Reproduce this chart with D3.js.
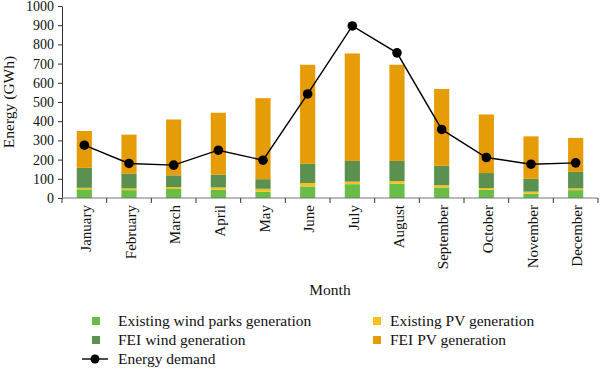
<!DOCTYPE html>
<html>
<head>
<meta charset="utf-8">
<script src="https://cdn.jsdelivr.net/npm/d3@7"></script>
<style>
  body { margin: 0; background: #fff; }
  svg text { font-family: "Liberation Serif", "DejaVu Serif", serif; fill: #111; }
</style>
</head>
<body>
<svg id="chart" width="600" height="369"></svg>
<script>
// values (GWh)
let months = ["January", "February", "March", "April", "May", "June", "July",
    "August", "September", "October", "November", "December"];
let existingWind = [45, 41, 47, 43, 33, 60, 72, 74, 55, 43, 22, 41];
let existingPV = [8, 9, 10, 12, 15, 18, 13, 14, 12, 9, 11, 9];
let feiWind = [104, 76, 61, 66, 50, 100, 108, 105, 101, 78, 67, 86];
let feiPV = [192, 204, 291, 323, 422, 516, 560, 501, 400, 305, 221, 177];
let demand = [275, 180, 171, 249, 197, 542, 896, 756, 357, 211, 176, 183];
let yTicks = [0, 100, 200, 300, 400, 500, 600, 700, 800, 900, 1000];

let seriesNames = ["Existing wind parks generation", "Existing PV generation",
    "FEI wind generation", "FEI PV generation"];
let colors = ["#67bd45", "#f5c21d", "#5b9150", "#e69c06"];

function draw() {
    let svg = d3.select("#chart");
    let left = 62, right = 598, top = 6, bottom = 198;

    let x = d3.scaleBand()
        .domain(months)
        .range([left, right])
        .paddingInner(0.66)
        .paddingOuter(0.33);

    let y = d3.scaleLinear()
        .domain([0, 1000])
        .range([bottom, top]);

    // build stack rows from the arrays
    let rows = months.map(function (m, i) {
        return { month: m, s0: existingWind[i], s1: existingPV[i], s2: feiWind[i], s3: feiPV[i] };
    });
    let stack = d3.stack().keys(["s0", "s1", "s2", "s3"]);
    let layers = stack(rows);

    svg.append("g").selectAll("g")
        .data(layers)
        .join("g")
        .attr("fill", function (d, i) { return colors[i]; })
        .selectAll("rect")
        .data(function (d) { return d; })
        .join("rect")
        .attr("x", function (d) { return x(d.data.month); })
        .attr("width", x.bandwidth())
        .attr("y", function (d) { return y(d[1]); })
        .attr("height", function (d) { return y(d[0]) - y(d[1]); });

    // axes
    let yAxis = svg.append("g")
        .attr("transform", "translate(" + left + ",0)")
        .call(d3.axisLeft(y).tickValues(yTicks).tickFormat(d3.format("d"))
            .tickSize(4).tickPadding(4).tickSizeOuter(0));
    yAxis.selectAll("text").style("font-size", "14px");
    yAxis.selectAll("line, path").attr("stroke", "#333");

    // x axis: ticks sit between the months
    let xAxis = svg.append("g")
        .attr("transform", "translate(0," + bottom + ")");
    xAxis.append("line")
        .attr("x1", left).attr("x2", right)
        .attr("stroke", "#777").attr("stroke-width", 1.2);
    let step = x.step();
    xAxis.selectAll(".tk")
        .data(d3.range(months.length + 1))
        .join("line")
        .attr("x1", function (i) { return left + i * step; })
        .attr("x2", function (i) { return left + i * step; })
        .attr("y1", 0).attr("y2", 5)
        .attr("stroke", "#333");
    xAxis.selectAll(".lbl")
        .data(months)
        .join("text")
        .attr("transform", function (d) {
            return "translate(" + (x(d) + x.bandwidth() / 2 + 1.5) + ",7) rotate(-90)";
        })
        .attr("text-anchor", "end")
        .attr("dy", "0.35em")
        .style("font-size", "15px")
        .text(function (d) { return d; });

    // demand line
    let line = d3.line()
        .x(function (d, i) { return x(months[i]) + x.bandwidth() / 2; })
        .y(function (d) { return y(d); });
    svg.append("path")
        .datum(demand)
        .attr("d", line)
        .attr("fill", "none")
        .attr("stroke", "#000")
        .attr("stroke-width", 1.4);
    svg.append("g").selectAll("circle")
        .data(demand)
        .join("circle")
        .attr("cx", function (d, i) { return x(months[i]) + x.bandwidth() / 2; })
        .attr("cy", function (d) { return y(d); })
        .attr("r", 4.8)
        .attr("fill", "#000");

    // axis titles
    svg.append("text")
        .attr("transform", "translate(14," + (top + bottom) / 2 + ") rotate(-90)")
        .attr("text-anchor", "middle")
        .style("font-size", "15.5px")
        .text("Energy (GWh)");
    svg.append("text")
        .attr("x", 330).attr("y", 295)
        .attr("text-anchor", "middle")
        .style("font-size", "15.5px")
        .text("Month");

    // legend
    let legendItems = [
        { name: seriesNames[0], color: colors[0], x: 92, y: 321 },
        { name: seriesNames[1], color: colors[1], x: 373, y: 321 },
        { name: seriesNames[2], color: colors[2], x: 92, y: 340 },
        { name: seriesNames[3], color: colors[3], x: 373, y: 340 }
    ];
    let lg = svg.append("g");
    lg.selectAll("rect")
        .data(legendItems)
        .join("rect")
        .attr("x", function (d) { return d.x; })
        .attr("y", function (d) { return d.y - 4; })
        .attr("width", 8).attr("height", 8)
        .attr("fill", function (d) { return d.color; });
    lg.selectAll("text")
        .data(legendItems)
        .join("text")
        .attr("x", function (d) { return d.x + (d.x < 200 ? 26 : 17); })
        .attr("y", function (d) { return d.y; })
        .attr("dy", "0.35em")
        .style("font-size", "15.5px")
        .text(function (d) { return d.name; });

    lg.append("line")
        .attr("x1", 82).attr("x2", 108).attr("y1", 359).attr("y2", 359)
        .attr("stroke", "#000").attr("stroke-width", 1.4);
    lg.append("circle")
        .attr("cx", 95).attr("cy", 359).attr("r", 4.5).attr("fill", "#000");
    lg.append("text")
        .attr("x", 118).attr("y", 359).attr("dy", "0.35em")
        .style("font-size", "15.5px")
        .text("Energy demand");
}

draw();
</script>
</body>
</html>
